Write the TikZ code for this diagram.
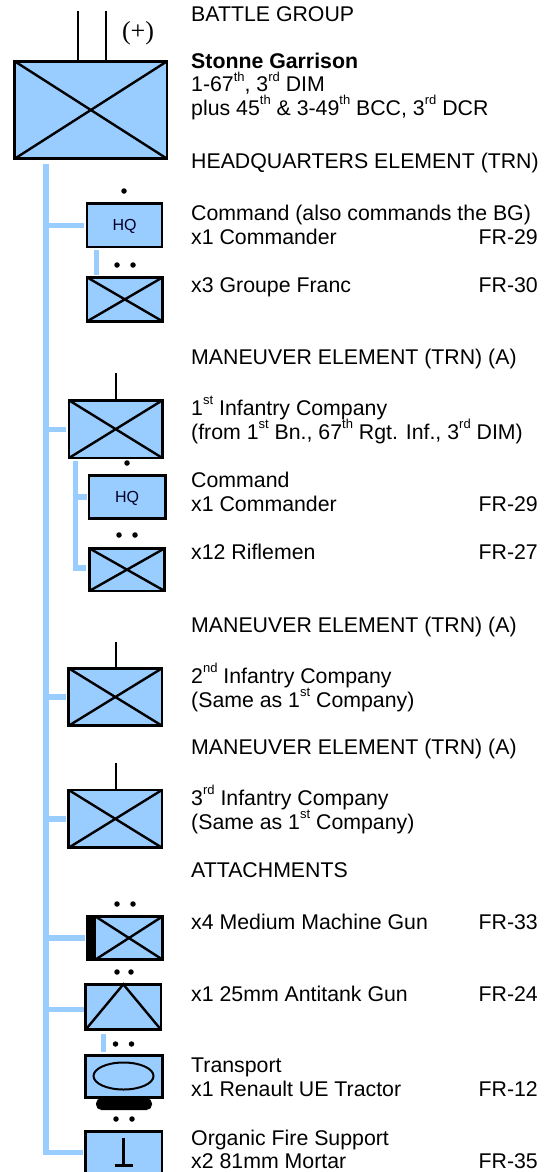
\documentclass[tikz,border=0pt]{standalone}
\usepackage{fontspec}
\setmainfont{Liberation Sans}
\newfontfamily\serifcap{Liberation Serif}
\newcommand{\sps}[1]{\raisebox{10.5pt}{\fontsize{13}{13}\selectfont #1}}
\tikzset{x=1pt,y=-1pt,
  link/.style={draw=linkblue,line width=5.2pt},
  unit/.style={draw=black,fill=boxblue,line width=2.7pt},
  sym/.style={draw=black,line width=2.4pt},
  dotm/.style={fill=black,circle,inner sep=0pt,minimum size=5.5pt},
  hqtxt/.style={inner sep=0pt,font=\fontsize{16}{18}\selectfont,text=black!85!blue},
  txt/.style={anchor=base west,inner sep=0pt,font=\fontsize{21.3}{24}\selectfont,align=left},
  fr/.style={anchor=base east,inner sep=0pt,font=\fontsize{21.3}{24}\selectfont}}
\definecolor{linkblue}{RGB}{153,204,255}
\definecolor{boxblue}{RGB}{153,204,255}
\newcommand{\crossbox}[5]{% name x1 y1 x2 y2
  \path[unit] (#2,#3) rectangle (#4,#5);
  \draw[sym] (#2,#3) -- (#4,#5) (#2,#5) -- (#4,#3);
  \coordinate (#1) at (#2,#3);}
\begin{document}
\begin{tikzpicture}
\useasboundingbox (0,0) rectangle (550,1172);
\clip (0,0) rectangle (550,1172);
% links
\draw[link] (46,164) -- (46,1152.5) -- (83,1152.5);
\draw[link] (46,225.5) -- (84,225.5);
\draw[link] (96.5,250) -- (96.5,275);
\draw[link] (46,429.3) -- (66,429.3);
\draw[link] (46,697) -- (66,697);
\draw[link] (46,819) -- (66,819);
\draw[link] (75.6,461) -- (75.6,568) -- (86,568);
\draw[link] (75.6,497) -- (87,497);
\draw[link] (46,938) -- (85,938);
\draw[link] (46,1009.7) -- (84,1009.7);
\draw[link] (103.7,1034) -- (103.7,1052);
% top
\draw[sym] (78,11) -- (78,61) (106,11) -- (106,61);
\node[inner sep=0pt,font=\serifcap\fontsize{26}{28}\selectfont] (plus) at (138,33) {(+)};
\crossbox{bg}{14.7}{61.3}{167}{158.7}
% HQ
\node[dotm] (d1) at (124,191) {};
\path[unit] (87,203.6) rectangle (162,247);
\node[hqtxt] (hq1) at (124.5,226.5) {HQ};
\node[dotm] (d2) at (117,265) {};
\node[dotm] (d3) at (133,265) {};
\crossbox{gf}{87}{277.3}{162.7}{321.4}
% 1st coy
\draw[sym] (115.7,373) -- (115.7,400);
\crossbox{c1}{69}{400.3}{162.4}{458}
\node[dotm] (d4) at (127,463) {};
\path[unit] (89,475.3) rectangle (165.4,518.7);
\node[hqtxt] (hq2) at (127,498) {HQ};
\node[dotm] (d5) at (119,535) {};
\node[dotm] (d6) at (135,535) {};
\crossbox{rf}{89.3}{548.3}{164.7}{591}
% 2nd
\draw[sym] (115.7,641.7) -- (115.7,668);
\crossbox{c2}{68.7}{668.3}{162}{725.7}
% 3rd
\draw[sym] (115.7,763) -- (115.7,790);
\crossbox{c3}{68.7}{790}{162}{847.7}
% MG
\node[dotm] (d7) at (117,904) {};
\node[dotm] (d8) at (133,904) {};
\path[unit] (87,916.3) rectangle (162.7,959.7);
\fill[black] (85.7,915) rectangle (96.3,961);
\draw[sym] (96.3,917) -- (162.7,959.7) (96.3,959) -- (162.7,916.3);
% AT
\node[dotm] (d9) at (117,972) {};
\node[dotm] (d10) at (131,972) {};
\path[unit] (85.6,984.3) rectangle (161,1029.7);
\draw[sym] (85.6,1029.7) -- (123.3,984.3) -- (161,1029.7);
% transport
\node[dotm] (d11) at (115.5,1044) {};
\node[dotm] (d12) at (131.5,1044) {};
\path[unit] (85.6,1055.3) rectangle (162.7,1097.7);
\draw[sym,line width=2pt] (123.5,1076) ellipse (30 and 13.5);
\fill[black,rounded corners=5.5pt] (96,1098) rectangle (152,1110);
% mortar
\node[dotm] (d13) at (116,1119) {};
\node[dotm] (d14) at (132,1119) {};
\path[unit] (85.6,1131.3) rectangle (162,1180);
\draw[sym] (123.5,1138) -- (123.5,1165.5) (114.5,1165.5) -- (133,1165.5);
% text
\node[txt] (t1) at (191,22) {BATTLE GROUP};
\node[txt] (t2) at (191,68) {\textbf{Stonne Garrison}};
\node[txt] (t3) at (191,92) {1-67\sps{th}, 3\sps{rd} DIM};
\node[txt] (t4) at (191,115) {plus 45\sps{th} \& 3-49\sps{th} BCC, 3\sps{rd} DCR};
\node[txt] (t5) at (191,168.5) {HEADQUARTERS ELEMENT (TRN)};
\node[txt] (t6) at (191,220.5) {Command (also commands the BG)};
\node[txt] (t7) at (191,244) {x1 Commander};
\node[fr] (f1) at (538,244) {FR-29};
\node[txt] (t8) at (191,292) {x3 Groupe Franc};
\node[fr] (f2) at (538,292) {FR-30};
\node[txt] (t9) at (191,364.5) {MANEUVER ELEMENT (TRN) (A)};
\node[txt] (t10) at (191,415) {1\sps{st} Infantry Company};
\node[txt] (t11) at (191,439) {(from 1\sps{st} Bn., 67\sps{th} Rgt. Inf., 3\sps{rd} DIM)};
\node[txt] (t12) at (191,487) {Command};
\node[txt] (t13) at (191,511) {x1 Commander};
\node[fr] (f3) at (538,511) {FR-29};
\node[txt] (t14) at (191,559.5) {x12 Riflemen};
\node[fr] (f4) at (538,559.5) {FR-27};
\node[txt] (t15) at (191,632) {MANEUVER ELEMENT (TRN) (A)};
\node[txt] (t16) at (191,683) {2\sps{nd} Infantry Company};
\node[txt] (t17) at (191,707) {(Same as 1\sps{st} Company)};
\node[txt] (t18) at (191,754) {MANEUVER ELEMENT (TRN) (A)};
\node[txt] (t19) at (191,805) {3\sps{rd} Infantry Company};
\node[txt] (t20) at (191,829) {(Same as 1\sps{st} Company)};
\node[txt] (t21) at (191,877) {ATTACHMENTS};
\node[txt] (t22) at (191,929) {x4 Medium Machine Gun};
\node[fr] (f5) at (538,929) {FR-33};
\node[txt] (t23) at (191,1001) {x1 25mm Antitank Gun};
\node[fr] (f6) at (538,1001) {FR-24};
\node[txt] (t24) at (191,1072.5) {Transport};
\node[txt] (t25) at (191,1096.5) {x1 Renault UE Tractor};
\node[fr] (f7) at (538,1096.5) {FR-12};
\node[txt] (t26) at (191,1145) {Organic Fire Support};
\node[txt] (t27) at (191,1168.5) {x2 81mm Mortar};
\node[fr] (f8) at (538,1168.5) {FR-35};
\end{tikzpicture}
\end{document}
